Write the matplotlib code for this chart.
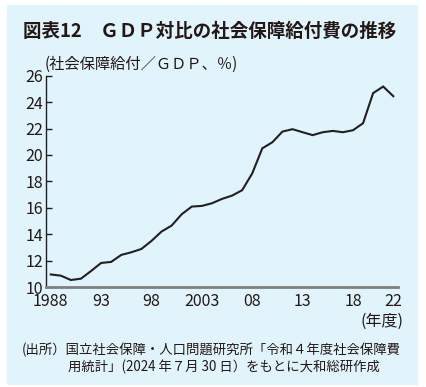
import matplotlib
matplotlib.use("Agg")
import matplotlib.pyplot as plt
from matplotlib.patches import Rectangle

plt.rcParams['font.family'] = ['Noto Sans CJK JP', 'DejaVu Sans']

years = list(range(1988, 2023))
values = [10.95, 10.86, 10.53, 10.63, 11.21, 11.82, 11.90, 12.43, 12.63, 12.88,
          13.49, 14.20, 14.65, 15.51, 16.09, 16.14, 16.34, 16.67, 16.92, 17.33,
          18.60, 20.50, 20.96, 21.77, 21.95, 21.72, 21.50, 21.72, 21.82, 21.72,
          21.87, 22.40, 24.68, 25.18, 24.45]
xtick_pos = [1988, 1993, 1998, 2003, 2008, 2013, 2018, 2022]
xtick_labels = ['1988', '93', '98', '2003', '08', '13', '18', '22']
ytick_pos = list(range(10, 27, 2))

title = '図表12　ＧＤＰ対比の社会保障給付費の推移'
ylabel = '(社会保障給付／ＧＤＰ、％)'
xunit = '(年度)'
source1 = '(出所）国立社会保障・人口問題研究所「令和４年度社会保障費'
source2 = '用統計」(2024 年７月 30 日）をもとに大和総研作成'

W, H = 426, 387
fig = plt.figure(figsize=(W/100, H/100), dpi=100)
fig.patch.set_facecolor('white')
bg = '#e1f3fb'
fig.patches.append(Rectangle((7/W, 1-385/H), (418-7)/W, (385-5)/H,
                             transform=fig.transFigure, facecolor=bg,
                             edgecolor='none', zorder=-10))

txt = '#231815'
ax = fig.add_axes([46/W, 1-287/H, (398-46)/W, (287-75.7)/H])
ax.set_facecolor(bg)
ax.plot(years, values, color='#231f20', lw=1.5, solid_joinstyle='miter')
ax.set_xlim(1988-0.47, 2022+0.47)
ax.set_ylim(10, 26)
ax.set_yticks(ytick_pos)
ax.set_yticklabels([str(v) for v in ytick_pos])
ax.set_xticks(xtick_pos)
ax.set_xticklabels(xtick_labels)
for s in ['top', 'right']:
    ax.spines[s].set_visible(False)
ax.spines['left'].set_color('#231f20')
ax.spines['left'].set_linewidth(1.0)
ax.spines['bottom'].set_color('#7f7f7f')
ax.spines['bottom'].set_linewidth(2.0)
ax.tick_params(axis='y', direction='in', length=4, width=1.0, color='#231f20',
               labelsize=11.5, labelcolor=txt, pad=2)
ax.tick_params(axis='x', length=0, labelsize=11.5, labelcolor=txt, pad=4)

fig.text(23/W, 1-31/H, title, fontsize=13.3, fontweight='bold', color=txt,
         ha='left', va='center')
fig.text(45/W, 1-64/H, ylabel, fontsize=11.0, color=txt, ha='left', va='center')
fig.text(404/W, 1-321/H, xunit, fontsize=11.5, color=txt, ha='right', va='center')
fig.text(22/W, 1-350/H, source1, fontsize=9.6, color=txt, ha='left', va='center')
fig.text(68/W, 1-367/H, source2, fontsize=9.6, color=txt, ha='left', va='center')

fig.savefig('out.png', dpi=100, facecolor='white')
